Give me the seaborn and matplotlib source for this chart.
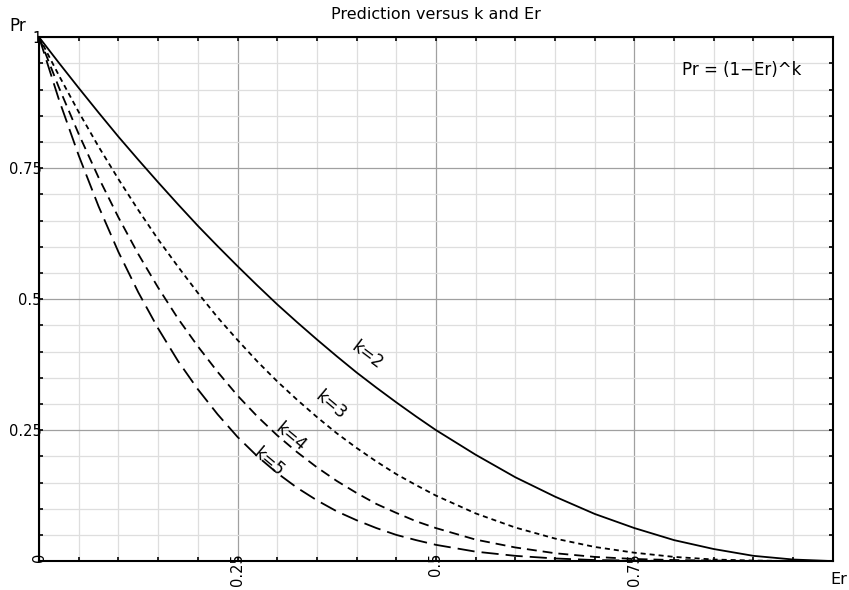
import numpy as np
import pandas as pd
import matplotlib
matplotlib.use('Agg')
import matplotlib.pyplot as plt
from matplotlib.ticker import MultipleLocator, FixedFormatter, FixedLocator
import seaborn as sns

# values (finer steps where the curves bend most)
er = [0, 0.025, 0.05, 0.075, 0.1, 0.125, 0.15, 0.175, 0.2, 0.225, 0.25,
      0.275, 0.3, 0.325, 0.35, 0.375, 0.4, 0.425, 0.45, 0.475, 0.5,
      0.55, 0.6, 0.65, 0.7, 0.75, 0.8, 0.85, 0.9, 0.95, 1.0]
pr_k2 = [1, 0.951, 0.903, 0.856, 0.81, 0.766, 0.723, 0.681, 0.64, 0.601, 0.563,
         0.526, 0.49, 0.456, 0.423, 0.391, 0.36, 0.331, 0.303, 0.276, 0.25,
         0.203, 0.16, 0.123, 0.09, 0.063, 0.04, 0.023, 0.01, 0.003, 0]
pr_k3 = [1, 0.927, 0.857, 0.791, 0.729, 0.67, 0.614, 0.562, 0.512, 0.465, 0.422,
         0.381, 0.343, 0.308, 0.275, 0.244, 0.216, 0.19, 0.166, 0.145, 0.125,
         0.091, 0.064, 0.043, 0.027, 0.016, 0.008, 0.003, 0.001, 0, 0]
pr_k4 = [1, 0.904, 0.815, 0.732, 0.656, 0.586, 0.522, 0.463, 0.41, 0.361, 0.316,
         0.276, 0.24, 0.208, 0.179, 0.153, 0.13, 0.109, 0.092, 0.076, 0.063,
         0.041, 0.026, 0.015, 0.008, 0.004, 0.002, 0.001, 0, 0, 0]
pr_k5 = [1, 0.881, 0.774, 0.677, 0.59, 0.513, 0.444, 0.382, 0.328, 0.28, 0.237,
         0.2, 0.168, 0.14, 0.116, 0.095, 0.078, 0.063, 0.05, 0.04, 0.031,
         0.018, 0.01, 0.005, 0.002, 0.001, 0, 0, 0, 0, 0]
k_names = ['k=2', 'k=3', 'k=4', 'k=5']

x_ticks = [0, 0.25, 0.5, 0.75]
x_labels = ['0', '0.25', '0.5', '0.75']
y_ticks = [0.25, 0.5, 0.75, 1]
y_labels = ['0.25', '0.5', '0.75', '1']

# long format for seaborn
df = pd.DataFrame({
    'Er': er * 4,
    'Pr': pr_k2 + pr_k3 + pr_k4 + pr_k5,
    'k': [n for n in k_names for _ in er],
})

sns.set_style('white')
plt.rcParams['font.family'] = ['DejaVu Sans']
plt.rcParams['text.color'] = 'black'
plt.rcParams['xtick.color'] = 'black'
plt.rcParams['ytick.color'] = 'black'

fig = plt.figure(figsize=(8.49, 5.9), dpi=100)
ax = fig.add_axes([0.046, 0.049, 0.935, 0.888])

dash_styles = {'k=2': '', 'k=3': (2.8, 2.2), 'k=4': (5.5, 3.3), 'k=5': (9.5, 3.9)}
sns.lineplot(data=df, x='Er', y='Pr', style='k', dashes=dash_styles,
             color='black', linewidth=1.3, legend=False, ax=ax)

ax.set_xlim(0, 1)
ax.set_ylim(0, 1)
ax.set_xlabel('')
ax.set_ylabel('')

# grid
ax.xaxis.set_major_locator(FixedLocator(x_ticks))
ax.xaxis.set_major_formatter(FixedFormatter(x_labels))
ax.yaxis.set_major_locator(FixedLocator(y_ticks))
ax.yaxis.set_major_formatter(FixedFormatter(y_labels))
ax.xaxis.set_minor_locator(MultipleLocator(0.05))
ax.yaxis.set_minor_locator(MultipleLocator(0.05))
ax.grid(which='major', color='#a0a0a0', linewidth=0.9)
ax.grid(which='minor', color='#dedede', linewidth=0.9)
ax.set_axisbelow(True)

for s in ax.spines.values():
    s.set_visible(True)
    s.set_color('black')
    s.set_linewidth(1.5)

ax.tick_params(which='both', direction='in', top=True, right=True,
               bottom=True, left=True, length=3, width=1.2, color='black')
ax.tick_params(axis='x', which='major', labelrotation=90, pad=-6, labelsize=10.5)
ax.tick_params(axis='y', which='major', pad=-2, labelsize=10.5)

ax.set_title('Prediction versus k and Er', fontsize=11.5, pad=13)
ax.text(-0.038, 1.004, 'Pr', transform=ax.transAxes, fontsize=12,
        ha='left', va='bottom')
ax.text(1.008, -0.02, 'Er', transform=ax.transAxes, fontsize=11.5,
        ha='center', va='top')
ax.text(0.96, 0.937, 'Pr = (1\u2212Er)^k', transform=ax.transAxes,
        fontsize=12, ha='right', va='center')

# curve labels
ax.text(0.413, 0.393, 'k=2', rotation=-37, fontsize=12, ha='center', va='center')
ax.text(0.367, 0.298, 'k=3', rotation=-40, fontsize=12, ha='center', va='center')
ax.text(0.317, 0.237, 'k=4', rotation=-40, fontsize=12, ha='center', va='center')
ax.text(0.289, 0.189, 'k=5', rotation=-40, fontsize=12, ha='center', va='center')

fig.savefig('out.png', dpi=100)
